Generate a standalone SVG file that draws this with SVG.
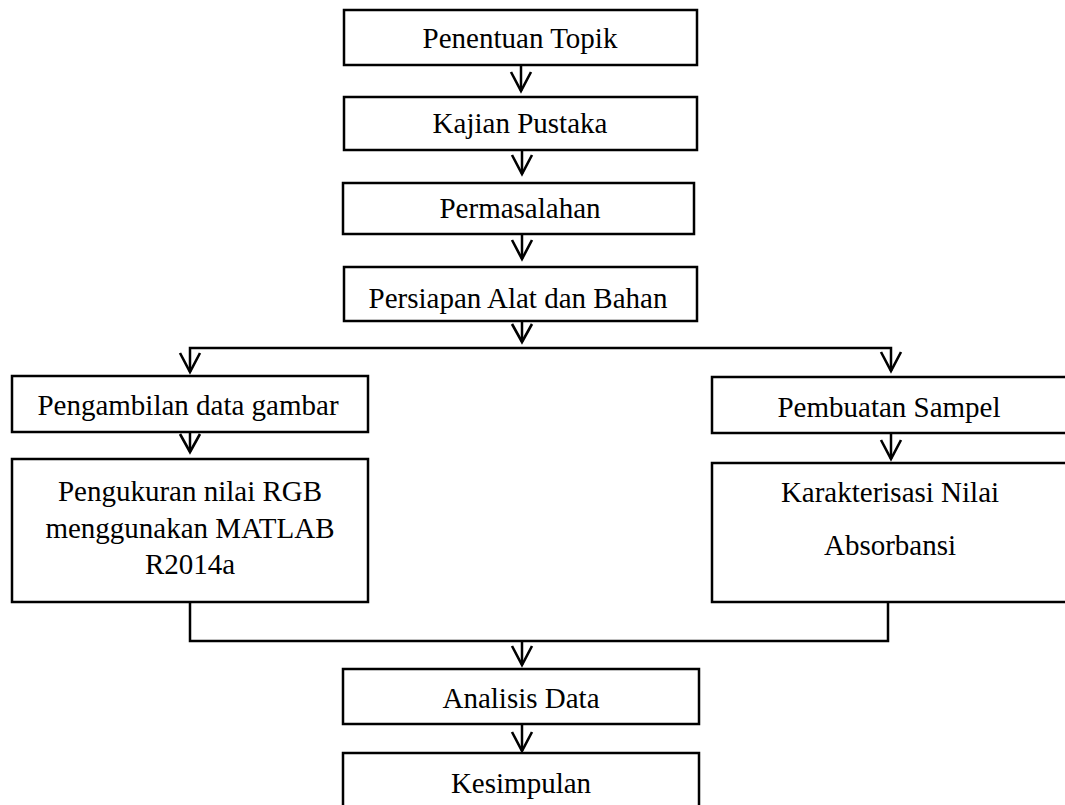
<svg xmlns="http://www.w3.org/2000/svg" width="1065" height="805" viewBox="0 0 1065 805">
<defs>
<style>
.box{fill:#ffffff;stroke:#000;stroke-width:2.5}
.t{font-family:"Liberation Serif","Times New Roman",serif;font-size:29px;fill:#000;text-anchor:middle}
.c{fill:none;stroke:#000;stroke-width:2.5}
.ah{fill:none;stroke:#000;stroke-width:2.6;stroke-linejoin:miter}
</style>
</defs>
<rect width="1065" height="805" fill="#ffffff"/>
<g id="connectors">
<path class="c" d="M521 65V91"/><path class="ah" d="M511 72L521 91L531 72"/>
<path class="c" d="M522 150V174"/><path class="ah" d="M512 155L522 174L532 155"/>
<path class="c" d="M522 234V259"/><path class="ah" d="M512 240L522 259L532 240"/>
<path class="c" d="M522 321V342"/><path class="ah" d="M512 324L522 342L532 324"/>
<path class="c" d="M190 372V348H891V371"/>
<path class="ah" d="M180 353L190 372L200 353"/><path class="ah" d="M881 352L891 371L901 352"/>
<path class="c" d="M190 432V452"/><path class="ah" d="M180 434L190 452L200 434"/>
<path class="c" d="M891 433V459"/><path class="ah" d="M881 440L891 459L901 440"/>
<path class="c" d="M190 602V641H888V602"/>
<path class="c" d="M522 641V665"/><path class="ah" d="M512 646L522 665L532 646"/>
<path class="c" d="M522 724V751"/><path class="ah" d="M512 732L522 751L532 732"/>
</g>
<g id="n1"><rect class="box" x="344" y="10" width="353" height="55"/><text class="t" x="520" y="48">Penentuan Topik</text></g>
<g id="n2"><rect class="box" x="344" y="97" width="353" height="53"/><text class="t" x="520" y="133">Kajian Pustaka</text></g>
<g id="n3"><rect class="box" x="343" y="183" width="351" height="51"/><text class="t" x="520" y="218">Permasalahan</text></g>
<g id="n4"><rect class="box" x="344" y="267" width="353" height="54"/><text class="t" x="518" y="308">Persiapan Alat dan Bahan</text></g>
<g id="n5"><rect class="box" x="12" y="376" width="356" height="56"/><text class="t" x="188" y="415">Pengambilan data gambar</text></g>
<g id="n6"><rect class="box" x="12" y="459" width="356" height="143"/><text class="t" x="190" y="501">Pengukuran nilai RGB</text><text class="t" x="190" y="538">menggunakan MATLAB</text><text class="t" x="190" y="574">R2014a</text></g>
<g id="n7"><rect class="box" x="712" y="377" width="360" height="56"/><text class="t" x="889" y="417">Pembuatan Sampel</text></g>
<g id="n8"><rect class="box" x="712" y="463" width="360" height="139"/><text class="t" x="890" y="502">Karakterisasi Nilai</text><text class="t" x="890" y="555">Absorbansi</text></g>
<g id="n9"><rect class="box" x="343" y="669" width="356" height="55"/><text class="t" x="521" y="708">Analisis Data</text></g>
<g id="n10"><rect class="box" x="343" y="753" width="356" height="60"/><text class="t" x="521" y="793">Kesimpulan</text></g>
</svg>
